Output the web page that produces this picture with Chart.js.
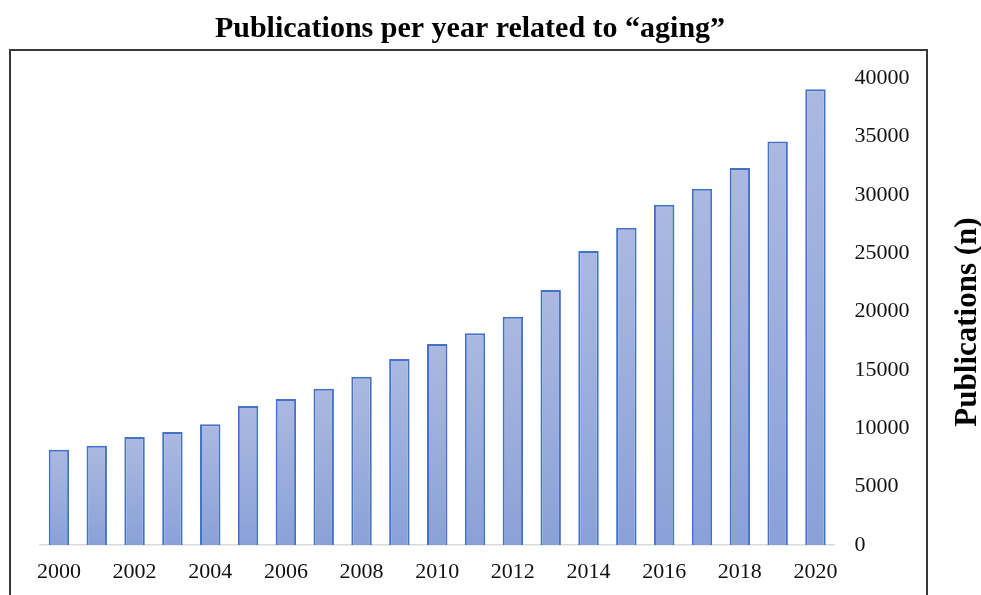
<!DOCTYPE html>
<html>
<head>
<meta charset="utf-8">
<script src="https://cdn.jsdelivr.net/npm/chart.js@4/dist/chart.umd.min.js"></script>
<style>
  html, body { margin: 0; padding: 0; background: #ffffff; }
  #wrap { width: 981px; height: 595px; position: relative; }
</style>
</head>
<body>
<div id="wrap"><canvas id="c" width="981" height="595"></canvas></div>
<script>
// Publications per year, 2000–2020
const years = ['2000','2001','2002','2003','2004','2005','2006','2007','2008','2009',
               '2010','2011','2012','2013','2014','2015','2016','2017','2018','2019','2020'];
const publications = [8150, 8500, 9250, 9680, 10340, 11900, 12500, 13390, 14420, 15930,
                      17220, 18130, 19550, 21840, 25180, 27180, 29150, 30520, 32290, 34560, 39040];
const yTicks = [0, 5000, 10000, 15000, 20000, 25000, 30000, 35000, 40000];

const chartTitle = 'Publications per year related to \u201Caging\u201D';
const yAxisTitle = 'Publications (n)';

const SERIF = '"Liberation Serif", "Times New Roman", Times, serif';

// Vertical gradient for each bar, light at the top and deeper at the base
function barFill(ctx) {
  const chart = ctx.chart;
  if (!chart.chartArea || ctx.type !== 'data') return '#9bb0dc';
  const y = chart.scales.y;
  const top = y.getPixelForValue(ctx.raw);
  const base = y.getPixelForValue(0);
  const g = chart.ctx.createLinearGradient(0, top, 0, base);
  g.addColorStop(0, '#abb9e1');
  g.addColorStop(1, '#8aa1d8');
  return g;
}

// Frame, title and the rotated axis caption
const decorations = {
  id: 'decorations',
  afterDraw(chart) {
    const c = chart.ctx;
    c.save();
    c.strokeStyle = '#383838';
    c.lineWidth = 2;
    c.strokeRect(10, 50, 917, 600);

    c.fillStyle = '#000000';
    c.font = 'bold 30px ' + SERIF;
    c.textAlign = 'center';
    c.textBaseline = 'alphabetic';
    c.fillText(chartTitle, 470, 37);

    c.translate(968, 322);
    c.rotate(-Math.PI / 2);
    c.font = 'bold 31px ' + SERIF;
    c.textAlign = 'center';
    c.textBaseline = 'middle';
    c.fillText(yAxisTitle, 0, 0);
    c.restore();
  }
};

new Chart(document.getElementById('c'), {
  type: 'bar',
  data: {
    labels: years,
    datasets: [{
      data: publications,
      backgroundColor: barFill,
      borderColor: '#4472c4',
      borderWidth: 2,
      borderSkipped: 'bottom',
      barPercentage: 0.54,
      categoryPercentage: 1.0
    }]
  },
  options: {
    responsive: false,
    animation: false,
    devicePixelRatio: 1,
    layout: { padding: { left: 40, top: 78, right: 0, bottom: 0 } },
    plugins: {
      legend: { display: false },
      title: { display: false },
      tooltip: { enabled: false }
    },
    scales: {
      x: {
        grid: { display: false, drawTicks: false },
        border: { display: true, color: '#d9d9d9', width: 1.5 },
        ticks: {
          autoSkip: false,
          maxRotation: 0,
          padding: 14,
          color: '#111111',
          font: { family: SERIF, size: 22 },
          callback: (v, i) => (i % 2 === 0 ? years[i] : '')
        },
        afterFit: s => { s.height = 50; }
      },
      y: {
        position: 'right',
        min: 0,
        max: 40000,
        grid: { display: false, drawTicks: false },
        border: { display: false },
        afterBuildTicks: s => { s.ticks = yTicks.map(v => ({ value: v })); },
        ticks: {
          padding: 20,
          color: '#111111',
          font: { family: SERIF, size: 22 },
          callback: v => String(v)
        },
        afterFit: s => { s.width = 146.6; }
      }
    }
  },
  plugins: [decorations]
});
</script>
</body>
</html>
